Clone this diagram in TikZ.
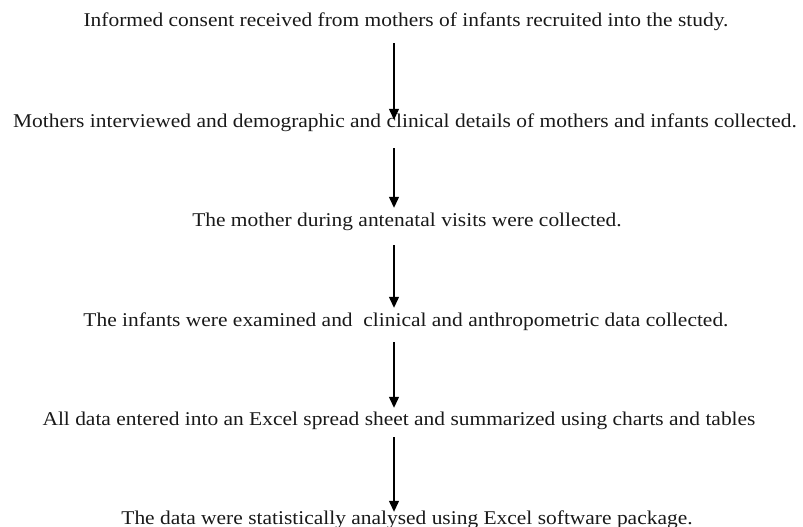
\documentclass[tikz,border=0pt]{standalone}
\usepackage{fontspec}
\setmainfont{Liberation Serif}[FakeStretch=1.1]
\usetikzlibrary{arrows.meta}
\begin{document}
\begin{tikzpicture}[x=1pt,y=-1pt,
  txt/.style={anchor=base,inner sep=0pt,text height=14pt,text depth=4pt,
    font=\fontsize{19.5}{22}\selectfont,text=black!90},
  arr/.style={line width=1.3pt,-{Triangle[width=10pt,length=11pt]}}]
\useasboundingbox (0,0) rectangle (803,527);
\node[txt] (t1) at (406,27) {Informed consent received from mothers of infants recruited into the study.};
\node[txt] (t2) at (405,127) {Mothers interviewed and demographic and clinical details of mothers and infants collected.};
\node[txt] (t3) at (407,226) {The mother during antenatal visits were collected.};
\node[txt] (t4) at (406,326) {The infants were examined and\ \ clinical and anthropometric data collected.};
\node[txt] (t5) at (399,425) {All data entered into an Excel spread sheet and summarized using charts and tables};
\node[txt] (t6) at (407,524) {The data were statistically analysed using Excel software package.};
\coordinate (ax) at (394,0);
\draw[arr] ([yshift=-12pt]t1.south -| ax) -- ([yshift=-7pt]t2.north -| ax);
\draw[arr] ([yshift=-17pt]t2.south -| ax) -- ([yshift=4pt]t3.north -| ax);
\draw[arr] ([yshift=-15pt]t3.south -| ax) -- ([yshift=4pt]t4.north -| ax);
\draw[arr] ([yshift=-12pt]t4.south -| ax) -- ([yshift=3pt]t5.north -| ax);
\draw[arr] ([yshift=-8pt]t5.south -| ax) -- ([yshift=-2pt]t6.north -| ax);
\end{tikzpicture}
\end{document}
